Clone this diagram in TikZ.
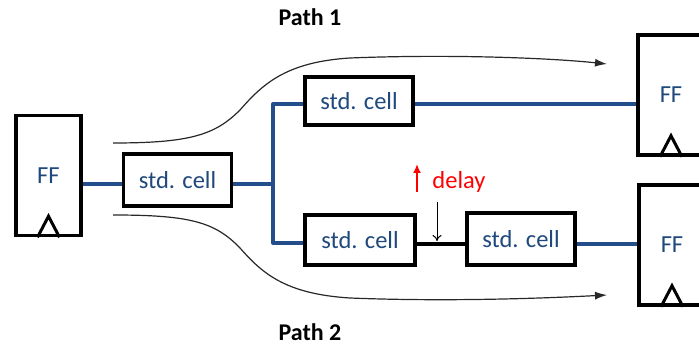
\documentclass[tikz,border=0pt]{standalone}
\usepackage{fontspec}
\setmainfont{Carlito}
\usetikzlibrary{arrows.meta,calc}
\definecolor{txtblue}{RGB}{31,73,125}
\definecolor{wireblue}{RGB}{36,78,138}
\definecolor{flowgray}{RGB}{40,40,40}
\begin{document}
\begin{tikzpicture}[x=1pt,y=-1pt,
  cellbox/.style={draw=black,line width=3.5pt,fill=white,minimum width=108pt,minimum height=50pt,
    text=txtblue,font=\fontsize{24.5}{28}\selectfont,inner sep=0pt},
  ffbox/.style={draw=black,line width=3.5pt,fill=white,minimum width=65pt,minimum height=120pt,
    text=txtblue,font=\fontsize{24.5}{28}\selectfont,inner sep=0pt},
  wire/.style={draw=wireblue,line width=4pt},
  blackwire/.style={draw=black,line width=4pt},
  clk/.style={draw=black,line width=3pt,line join=miter},
  flow/.style={draw=flowgray,line width=1.2pt,-{Latex[length=12pt,width=8pt]}},
  pathlabel/.style={font=\bfseries\fontsize{24}{28}\selectfont,text=black},
  delaylabel/.style={font=\fontsize{24.5}{28}\selectfont,text=red}]
\useasboundingbox (0,0) rectangle (699,347);

% flip-flops
\node[ffbox] (ff1) at (48.5,175.5) {FF};
\node[ffbox,minimum width=66pt] (ff2) at (671,95) {FF};
\node[ffbox,minimum width=66pt] (ff3) at (672,245) {FF};

% standard cells
\node[cellbox,minimum height=52pt] (c1) at (177.5,180) {std. cell};
\node[cellbox,minimum height=48pt] (c2) at (359,101) {std. cell};
\node[cellbox,minimum width=110pt] (c3) at (360,240) {std. cell};
\node[cellbox,minimum height=52pt] (c4) at (521,239) {std. cell};

% clock triangles
\foreach \f in {ff1,ff2,ff3}{
  \draw[clk] ($(\f.south)+(-11,0)$) -- ($(\f.south)+(0,-21)$) -- ($(\f.south)+(11,0)$);
}

% wiring
\coordinate (j) at (273,184);
\coordinate (jt) at (273,104);
\coordinate (jb) at (273,243);
\draw[wire] (ff1.east |- j) -- (c1.west |- j);
\draw[wire] (c1.east |- j) -- (j);
\draw[wire,line join=round] (c2.west |- jt) -- (jt) -- (jb) -- (c3.west |- jb);
\draw[wire] (c2.east |- jt) -- (ff2.west |- jt);
\coordinate (w2) at (441,244);
\draw[blackwire] (c3.east |- w2) -- (c4.west |- w2);
\draw[wire] (c4.east |- w2) -- (ff3.west |- w2);

% delay marker
\coordinate (dtop) at (437,202);
\draw[line width=1pt,-{To[length=6pt,width=9pt]}] (dtop) -- (dtop |- 0,241);
\coordinate (rbot) at (417,192);
\draw[red,line width=1.8pt,-{Latex[length=9pt,width=8pt]}] (rbot) -- (417,164);
\node[delaylabel] (dl) at (459,182) {delay};

% timing paths
\draw[flow] (113,143) .. controls (190,143) and (215,135) .. (240,110)
  .. controls (262,85) and (285,62) .. (350,58)
  .. controls (450,54) and (550,58) .. (607,64);
\draw[flow] (113,215) .. controls (190,215) and (215,222) .. (240,248)
  .. controls (262,273) and (285,294) .. (350,298)
  .. controls (450,302) and (550,298) .. (607,295);
\node[pathlabel] (p1) at (310,17) {Path 1};
\node[pathlabel] (p2) at (310,332) {Path 2};
\end{tikzpicture}
\end{document}
